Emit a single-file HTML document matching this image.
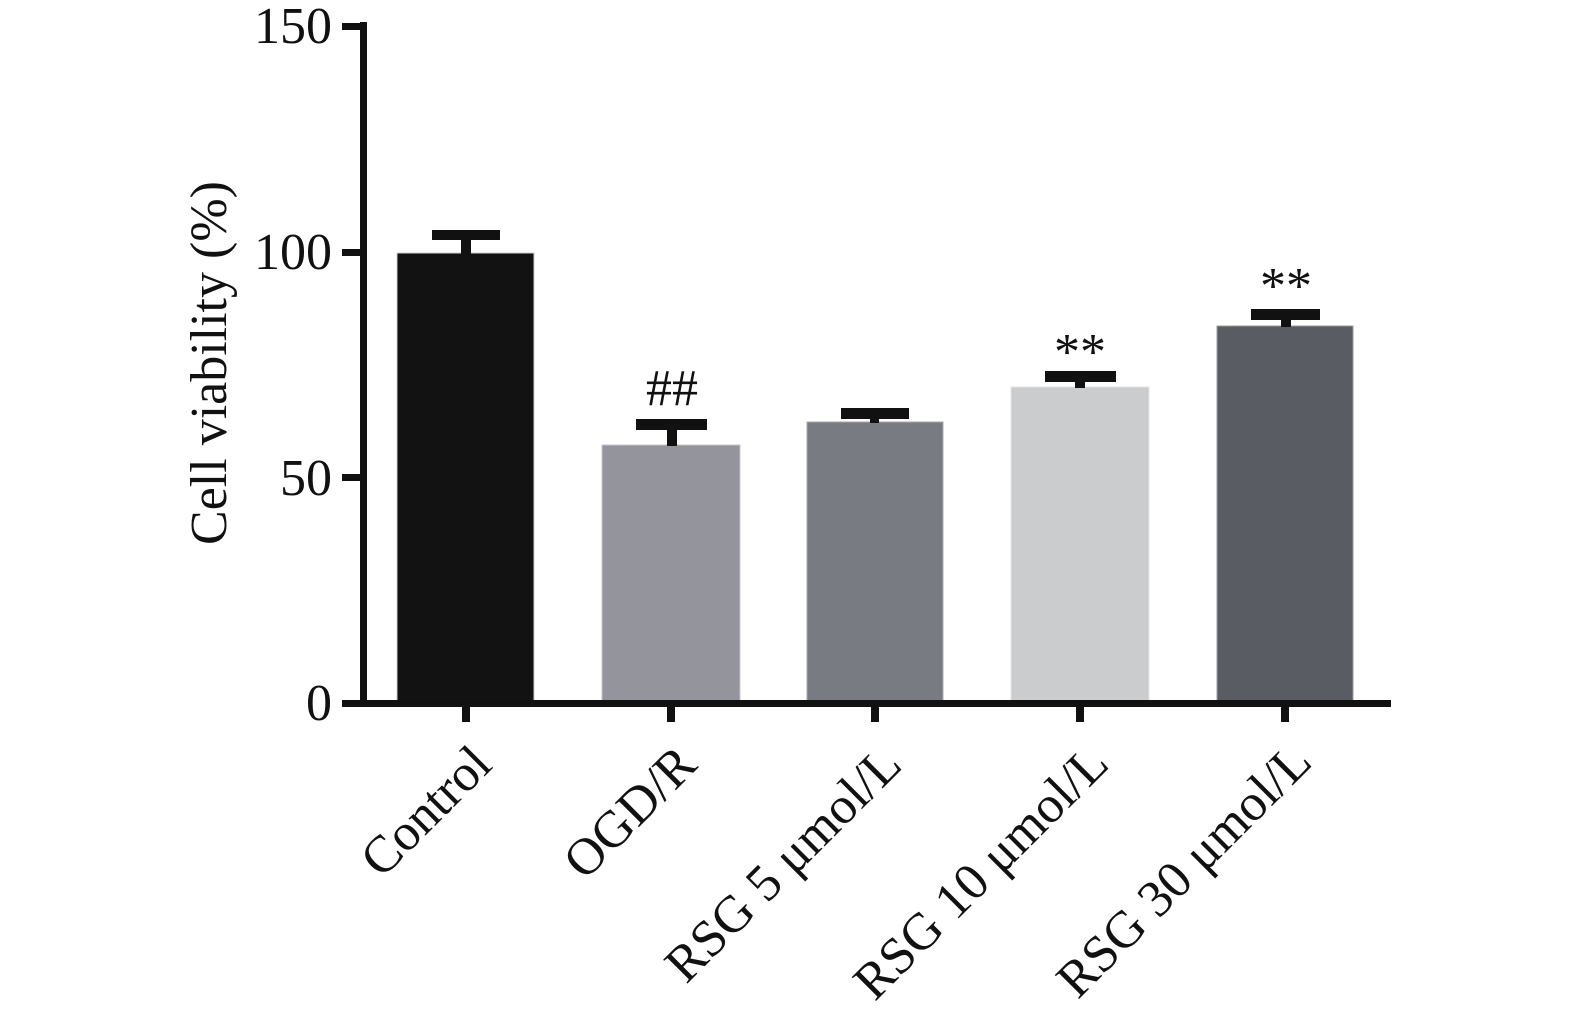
<!DOCTYPE html>
<html>
<head>
<meta charset="utf-8">
<style>
html,body{margin:0;padding:0;background:#fff;}
svg{display:block;}
text{font-family:"Liberation Serif","Times New Roman",serif;fill:#111;}
</style>
</head>
<body>
<svg width="1575" height="1014" viewBox="0 0 1575 1014" xmlns="http://www.w3.org/2000/svg">
  <rect width="1575" height="1014" fill="#fff"/>

  <!-- Bars -->
  <rect x="397" y="253" width="137" height="448" fill="#121212" stroke="#cfcfcf" stroke-width="1"/>
  <rect x="602" y="445" width="138" height="256" fill="#94959c" stroke="#c4c5c9" stroke-width="1"/>
  <rect x="807" y="422" width="136" height="279" fill="#797b82" stroke="#a9aaae" stroke-width="1"/>
  <rect x="1011" y="387" width="138" height="314" fill="#cbcccd" stroke="#e4e4e5" stroke-width="1"/>
  <rect x="1217" y="326" width="136" height="375" fill="#5a5c64" stroke="#9a9ba0" stroke-width="1"/>

  <!-- Error bars -->
  <g fill="#111">
    <rect x="432" y="230" width="68" height="10"/>
    <rect x="461" y="239" width="10" height="15"/>
    <rect x="636" y="419" width="71" height="11"/>
    <rect x="667" y="429" width="10" height="17"/>
    <rect x="841" y="408" width="68" height="11"/>
    <rect x="870" y="418" width="9" height="5"/>
    <rect x="1045" y="371" width="71" height="11"/>
    <rect x="1075" y="381" width="10" height="7"/>
    <rect x="1251" y="309" width="69" height="11"/>
    <rect x="1281" y="319" width="10" height="8"/>
  </g>

  <!-- Axes -->
  <g fill="#111">
    <rect x="360" y="22" width="7" height="685"/>
    <rect x="342" y="23" width="22" height="7"/>
    <rect x="342" y="249" width="22" height="7"/>
    <rect x="342" y="474" width="22" height="7"/>
    <rect x="342" y="700" width="1049" height="7"/>
    <rect x="462" y="706" width="8" height="16"/>
    <rect x="667" y="706" width="8" height="16"/>
    <rect x="871" y="706" width="8" height="16"/>
    <rect x="1076" y="706" width="8" height="16"/>
    <rect x="1281" y="706" width="8" height="16"/>
  </g>

  <!-- Y tick labels -->
  <g font-size="52" text-anchor="end">
    <text x="332" y="43">150</text>
    <text x="332" y="269">100</text>
    <text x="332" y="495">50</text>
    <text x="332" y="720">0</text>
  </g>

  <!-- Y axis title -->
  <text font-size="52" text-anchor="middle" transform="translate(226,363) rotate(-90)">Cell viability (%)</text>

  <!-- Annotations -->
  <text x="672" y="405" font-size="52" text-anchor="middle">##</text>
  <text x="1080" y="369" font-size="52" text-anchor="middle">**</text>
  <text x="1286" y="303" font-size="52" text-anchor="middle">**</text>

  <!-- X labels -->
  <g font-size="52" text-anchor="end">
    <text transform="translate(494,767) rotate(-45)">Control</text>
    <text transform="translate(699,767) rotate(-45)">OGD/R</text>
    <text transform="translate(904,767) rotate(-45)">RSG 5 μmol/L</text>
    <text transform="translate(1111,766) rotate(-45)">RSG 10 μmol/L</text>
    <text transform="translate(1314,764) rotate(-45)">RSG 30 μmol/L</text>
  </g>
</svg>
</body>
</html>
